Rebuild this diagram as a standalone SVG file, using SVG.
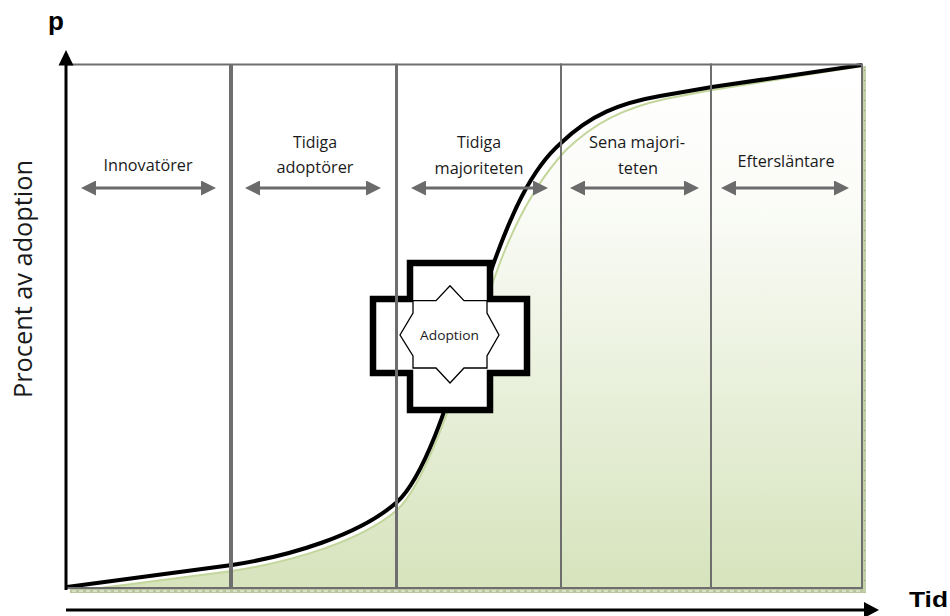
<svg xmlns="http://www.w3.org/2000/svg" width="950" height="616" viewBox="0 0 950 616">
<defs>
<linearGradient id="gfill" gradientUnits="userSpaceOnUse" x1="0" y1="65" x2="0" y2="592">
<stop offset="0" stop-color="#ffffff"/>
<stop offset="0.25" stop-color="#fbfcf8"/>
<stop offset="1" stop-color="#d6e3bc"/>
</linearGradient>
<marker id="ah" viewBox="0 0 10 10" refX="0" refY="5" markerWidth="5" markerHeight="5" orient="auto-start-reverse" markerUnits="strokeWidth">
<path d="M0,0 L10,5 L0,10 Z" fill="#6b6b6b"/>
</marker>
<style>
.box{fill:none;stroke:#6e6e6e;stroke-width:2}
.span{stroke:#6b6b6b;stroke-width:3;fill:none;marker-start:url(#ah);marker-end:url(#ah)}
.lbl{font-family:"Open Sans","Noto Sans","Liberation Sans",sans-serif;font-size:16.5px;fill:#1a1a1a;text-anchor:middle}
.bold{font-family:"Liberation Sans",Arial,sans-serif;font-weight:bold;fill:#000}
.axis{stroke:#000;stroke-width:3;fill:none}
</style>
</defs>

<g id="area">
<path d="M70,592 L232,571 C290,562 360,542 397,510 C430,480 463,365 498,268 C515,222 538,180 566,150 C595,122 625,108 665,99 L712,90 L862,66 L866,66 L866,593 L70,593 Z" fill="url(#gfill)"/>
<path d="M70,592 L232,571 C290,562 360,542 397,510 C430,480 463,365 498,268 C515,222 538,180 566,150 C595,122 625,108 665,99 L712,90 L862,66" fill="none" stroke="#c3d69b" stroke-width="2"/>
<rect x="70" y="589" width="796" height="4" fill="#b9c59c"/>
<line x1="72" y1="591" x2="866" y2="591" stroke="#e2e9d2" stroke-width="1.5" stroke-dasharray="4,3"/>
<rect x="863" y="66" width="3" height="526" fill="#c4d0a8"/>
<line x1="864.5" y1="70" x2="864.5" y2="588" stroke="#8f9c78" stroke-width="1" stroke-dasharray="1,9"/>
</g>

<g id="curve">
<path d="M67,587 L232,565 C290,556 360,535 397,502 C432,470 460,360 493,265 C510,218 530,170 561,143 C590,115 620,103 660,96 L712,87 L862,65" fill="none" stroke="#000" stroke-width="4" stroke-linejoin="round"/>
</g>

<g id="adoption">
<path d="M410,263 H490 V299 H527 V373 H490 V410 H410 V373 H373 V299 H410 Z" fill="#fff" stroke="#000" stroke-width="6.5" stroke-linejoin="miter"/>
<path d="M413,300.7 H436 L450,285.7 L464,300.7 H487 V313 L499,335 L487,356 V368 H464 L450,383 L436,368 H413 V356 L400,335 L413,313 Z" fill="#fff" stroke="#000" stroke-width="1.3"/>
<text class="lbl" x="449.5" y="340" style="font-size:13.5px" textLength="59" lengthAdjust="spacingAndGlyphs">Adoption</text>
</g>

<g id="phase-innovatorer">
<rect class="box" x="66" y="64.5" width="164" height="523.5"/>
<text class="lbl" x="148" y="171" textLength="89" lengthAdjust="spacingAndGlyphs">Innovatörer</text>
</g>
<g id="phase-tidiga-adoptorer">
<rect class="box" x="232" y="64.5" width="164" height="523.5"/>
<text class="lbl" x="315" y="148" textLength="44" lengthAdjust="spacingAndGlyphs">Tidiga</text>
<text class="lbl" x="315" y="173" textLength="77" lengthAdjust="spacingAndGlyphs">adoptörer</text>
</g>
<g id="phase-tidiga-majoriteten">
<rect class="box" x="397" y="64.5" width="164" height="523.5"/>
<text class="lbl" x="479" y="148" textLength="44" lengthAdjust="spacingAndGlyphs">Tidiga</text>
<text class="lbl" x="479" y="174" textLength="89" lengthAdjust="spacingAndGlyphs">majoriteten</text>
</g>
<g id="phase-sena-majoriteten">
<rect class="box" x="561" y="64.5" width="150" height="523.5"/>
<text class="lbl" x="637" y="148" textLength="96" lengthAdjust="spacingAndGlyphs">Sena majori-</text>
<text class="lbl" x="638" y="174" textLength="40" lengthAdjust="spacingAndGlyphs">teten</text>
</g>
<g id="phase-eftersläntare">
<rect class="box" x="711" y="64.5" width="151" height="523.5"/>
<text class="lbl" x="786" y="167" textLength="97" lengthAdjust="spacingAndGlyphs">Eftersläntare</text>
</g>

<g id="connectors">
<line class="span" x1="96" y1="188" x2="201" y2="188"/>
<line class="span" x1="260" y1="188" x2="366" y2="188"/>
<line class="span" x1="426" y1="188" x2="533" y2="188"/>
<line class="span" x1="585" y1="188" x2="684" y2="188"/>
<line class="span" x1="736" y1="188" x2="834" y2="188"/>
</g>

<g id="axes">
<line class="axis" x1="66" y1="590" x2="66" y2="62"/>
<polygon points="66,50 58.5,65.5 73.5,65.5" fill="#000"/>
<line class="axis" x1="66" y1="610" x2="866" y2="610"/>
<polygon points="879,610 864,602 864,618" fill="#000"/>
<text class="bold" x="48" y="30" style="font-size:26px">p</text>
<text class="bold" x="909" y="607" style="font-size:22px" textLength="39" lengthAdjust="spacingAndGlyphs">Tid</text>
<text class="lbl" transform="translate(32,279) rotate(-90)" x="0" y="0" style="font-size:25px" textLength="238" lengthAdjust="spacingAndGlyphs">Procent av adoption</text>
</g>
</svg>
